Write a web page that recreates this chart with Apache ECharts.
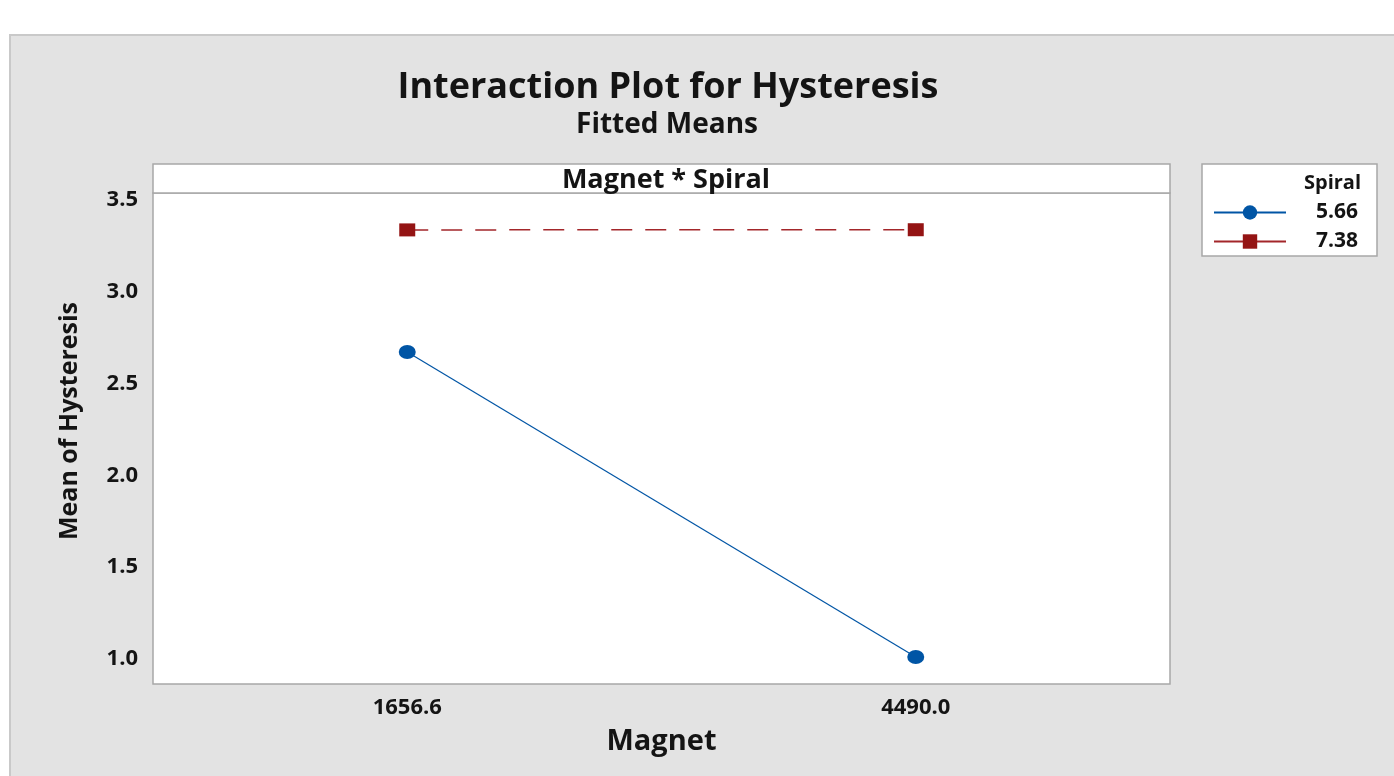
<!DOCTYPE html>
<html><head><meta charset="utf-8">
<script src="https://cdn.jsdelivr.net/npm/echarts@6/dist/echarts.min.js"></script>
<style>html,body{margin:0;padding:0;background:#fff}#c{width:1394px;height:776px}</style>
</head><body><div id="c"></div>
<script>
const magnetLevels = ['1656.6', '4490.0'];
const spiralLevels = ['5.66', '7.38'];
const spiral566 = [2.672, 1.011];
const spiral738 = [3.337, 3.338];
const yTicks = [1.0, 1.5, 2.0, 2.5, 3.0, 3.5];

const F = '"Open Sans", "Noto Sans", sans-serif';
const INK = '#141414';
const chart = echarts.init(document.getElementById('c'));
chart.setOption({
  backgroundColor: '#fff',
  animation: false,
  graphic: [
    {type: 'rect', z: -10, shape: {x: 10, y: 35, width: 1400, height: 800}, style: {fill: '#e3e3e3', stroke: '#c9c9c9', lineWidth: 2}},
    {type: 'rect', z: 1, shape: {x: 153, y: 164, width: 1017, height: 29}, style: {fill: '#fff', stroke: '#a8a8a8', lineWidth: 1.5}},
    {type: 'rect', z: 1, shape: {x: 1202, y: 164, width: 175, height: 92}, style: {fill: '#fff', stroke: '#a8a8a8', lineWidth: 1.5}},
    {type: 'text', z: 2, style: {x: 1361, y: 183, text: 'Spiral', align: 'right', verticalAlign: 'middle', font: 'bold 20px ' + F, fill: INK}},
    {type: 'text', z: 2, x: 70, y: 421, rotation: Math.PI / 2,
      style: {x: 0, y: 0, text: 'Mean of Hysteresis', align: 'center', verticalAlign: 'middle', font: 'bold 25px ' + F, fill: INK}}
  ],
  title: [
    {text: 'Interaction Plot for Hysteresis', left: 663, textAlign: 'center', top: 65, textStyle: {fontFamily: F, fontWeight: 'bold', fontSize: 36, color: INK}},
    {text: 'Fitted Means', left: 662, textAlign: 'center', top: 106, textStyle: {fontFamily: F, fontWeight: 'bold', fontSize: 28, color: INK}},
    {text: 'Magnet * Spiral', left: 661, textAlign: 'center', top: 162, z: 3, textStyle: {fontFamily: F, fontWeight: 'bold', fontSize: 27, color: INK}}
  ],
  legend: {
    orient: 'vertical', left: 1213, top: 202, padding: 0, itemWidth: 72, itemHeight: 18, itemGap: 8,
    textStyle: {fontFamily: F, fontWeight: 'bold', fontSize: 21, lineHeight: 18, color: INK, padding: [0, 0, 0, 25]},
    data: [
      {name: spiralLevels[0]},
      {name: spiralLevels[1], lineStyle: {type: 'solid'}}
    ]
  },
  grid: {left: 153, right: 224, top: 193, bottom: 92, show: true, backgroundColor: '#fff', borderColor: '#a8a8a8', borderWidth: 1.5},
  xAxis: {
    type: 'category', data: magnetLevels, boundaryGap: true,
    name: 'Magnet', nameLocation: 'middle', nameGap: 43,
    nameTextStyle: {fontFamily: F, fontWeight: 'bold', fontSize: 29, color: INK},
    axisLine: {show: false},
    axisTick: {alignWithLabel: true, length: 7, lineStyle: {color: '#a0a0a0', width: 1.5}},
    axisLabel: {fontFamily: F, fontWeight: 'bold', fontSize: 22, color: INK, margin: 13}
  },
  yAxis: {
    type: 'value', min: 0.864, max: 3.538,
    axisLine: {show: false},
    splitLine: {show: false},
    axisTick: {customValues: yTicks, length: 7, lineStyle: {color: '#a0a0a0', width: 1.5}},
    axisLabel: {customValues: yTicks, formatter: v => v.toFixed(1), fontFamily: F, fontWeight: 'bold', fontSize: 22, color: INK, margin: 15}
  },
  series: [
    {name: spiralLevels[0], type: 'line', data: spiral566, symbol: 'circle', symbolSize: [17, 14],
      itemStyle: {color: '#0055a5'}, lineStyle: {color: '#0055a5', width: 1.2}},
    {name: spiralLevels[1], type: 'line', data: spiral738, symbol: 'rect', symbolSize: [16, 13],
      itemStyle: {color: '#941414'}, lineStyle: {color: '#a3262a', width: 1.5, type: [21, 13]}}
  ]
});
</script></body></html>
